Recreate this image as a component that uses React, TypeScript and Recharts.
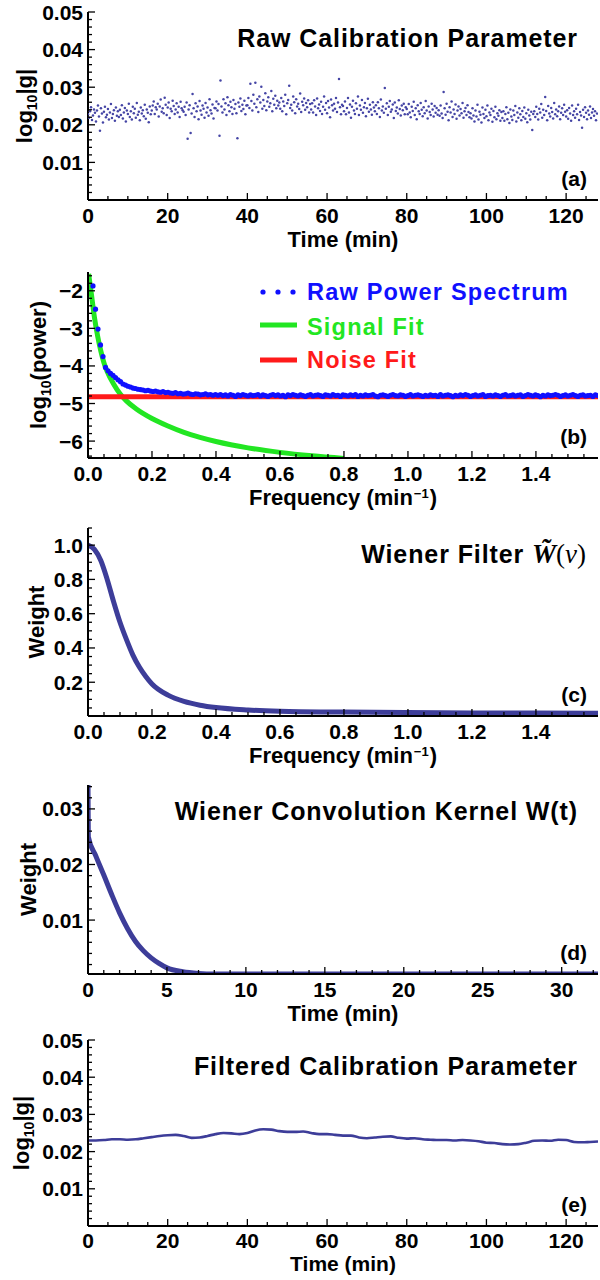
import React from 'react';
import { ComposedChart, Line, Scatter, XAxis, YAxis } from 'recharts';

const FONT = '"Liberation Sans", Arial, Helvetica, sans-serif';
const SERIF = '"Liberation Serif", "DejaVu Serif", serif';
const INK = '#3d3d99';
const BLUE = '#1010ff';
const GREEN = '#22e622';
const RED = '#ff1a1a';

// (a) raw calibration parameter, one reading every 0.25 min, in units of 1e-4
const rawStep = 0.25;
const rawG = [
  228, 219, 236, 247, 213, 225, 241, 232, 209, 238, 251, 222, 184, 244, 230, 206, 235, 248, 220, 227, 242, 214, 233, 255, 218, 229, 239, 211, 246, 224, 236, 221,
  240, 226, 252, 217, 233, 245, 209, 238, 229, 256, 221, 236, 214, 248, 231, 243, 219, 258, 227, 235, 212, 246, 230, 239, 223, 253, 216, 241, 232, 207, 249, 228,
  238, 251, 262, 229, 247, 241, 256, 222, 249, 267, 235, 244, 231, 272, 253, 226, 246, 259, 218, 243, 236, 264, 250, 229, 241, 257, 233, 248, 221, 261, 244, 239,
  235, 248, 226, 259, 163, 241, 252, 178, 230, 282, 244, 221, 257, 236, 249, 215, 263, 238, 227, 251, 243, 219, 258, 233, 246, 224, 268, 239, 230, 254, 217, 245,
  244, 262, 238, 255, 171, 318, 249, 233, 268, 241, 257, 226, 273, 252, 236, 261, 247, 229, 266, 243, 255, 231, 164, 259, 248, 270, 237, 253, 242, 264, 228, 251,
  252, 271, 245, 309, 263, 238, 280, 256, 312, 247, 268, 234, 275, 259, 301, 243, 266, 250, 284, 239, 262, 273, 248, 257, 290, 236, 269, 253, 277, 244, 264, 251,
  259, 243, 271, 236, 262, 250, 280, 228, 257, 266, 304, 245, 253, 238, 275, 260, 231, 268, 249, 256, 242, 283, 234, 261, 252, 270, 240, 258, 247, 265, 233, 255,
  241, 257, 233, 265, 249, 226, 270, 244, 254, 237, 261, 229, 248, 275, 240, 258, 231, 263, 246, 220, 267, 252, 238, 256, 243, 271, 234, 259, 322, 247, 228, 253,
  250, 236, 262, 228, 245, 271, 233, 254, 219, 248, 264, 238, 229, 257, 243, 275, 226, 251, 240, 266, 232, 247, 258, 223, 244, 269, 235, 253, 241, 227, 260, 246,
  236, 252, 229, 260, 244, 221, 267, 238, 249, 232, 298, 243, 257, 226, 248, 263, 235, 241, 254, 218, 259, 237, 246, 230, 265, 242, 225, 251, 239, 256, 228, 247,
  242, 228, 255, 233, 220, 248, 237, 261, 226, 244, 215, 252, 236, 229, 258, 240, 223, 247, 231, 263, 238, 217, 249, 234, 226, 256, 241, 222, 250, 232, 245, 227,
  239, 224, 251, 230, 218, 287, 244, 227, 256, 235, 212, 247, 233, 262, 221, 241, 229, 254, 216, 238, 249, 225, 242, 231, 258, 219, 236, 245, 226, 252, 234, 220,
  231, 217, 244, 225, 209, 238, 222, 253, 214, 235, 227, 206, 246, 229, 218, 240, 223, 251, 212, 233, 226, 243, 208, 237, 220, 248, 215, 231, 224, 239, 211, 234,
  218, 236, 211, 229, 247, 215, 232, 205, 241, 222, 213, 238, 226, 250, 209, 233, 219, 244, 228, 212, 237, 221, 246, 216, 231, 207, 240, 225, 214, 235, 186, 229,
  236, 221, 248, 229, 214, 243, 233, 255, 219, 240, 226, 274, 237, 212, 250, 230, 222, 245, 234, 217, 258, 228, 241, 223, 236, 249, 215, 232, 244, 226, 253, 235,
  222, 239, 216, 245, 230, 211, 251, 226, 236, 219, 243, 228, 253, 213, 234, 225, 192, 240, 221, 247, 232, 215, 238, 227, 249, 218, 233, 242, 224, 236, 212, 230,
];

// (b) raw power spectrum, log10 in hundredths, bins k = 2.. at k/128 min^-1
const specFirstBin = 2;
const specBin = 1 / 128;
const specPower = [
  -187, -249, -302, -344, -375,
  -404, -413, -420, -425, -431, -437, -442, -448, -451, -454, -456, -459, -460, -462, -463, -464, -466, -465, -467, -468,
  -467, -469, -470, -468, -471, -470, -472, -473, -471, -474, -473, -475, -474, -472, -475, -476, -474, -475, -477, -476, -474, -477, -476, -478, -476,
  -478, -476, -479, -477, -480, -476, -478, -481, -477, -479, -476, -478, -480, -477, -479, -478, -476,
  -480, -477, -479, -481, -478, -476, -479, -477, -480, -478, -482, -477, -479, -476, -478, -480, -477,
  -479, -481, -478, -476, -480, -478, -477, -479, -481, -477, -478, -480, -476, -479, -478, -481, -477,
  -478, -480, -477, -479, -476, -481, -478, -480, -477, -479, -478, -476, -480, -482, -478, -477, -479,
  -481, -478, -476, -479, -480, -477, -478, -481, -479, -476, -480, -478, -477, -479, -481, -478, -480,
  -477, -479, -478, -481, -476, -480, -478, -477, -479, -482, -478, -480, -477, -479, -476, -478, -481,
  -479, -477, -480, -478, -476, -481, -479, -478, -480, -477, -479, -481, -478, -476, -480, -479, -477,
  -480, -478, -477, -481, -479, -476, -478, -480, -477, -479, -482, -478, -480, -477, -479, -478, -476,
  -478, -481, -479, -477, -480, -478, -476, -479, -481, -478, -477, -480, -479, -478, -481, -477, -479,
];
const signalFreq = [0.002, 0.01, 0.02, 0.03, 0.04, 0.05, 0.06, 0.08, 0.1, 0.12, 0.15, 0.2, 0.25, 0.3, 0.35, 0.4, 0.5, 0.6, 0.7, 0.8];
const signalFit = [-1.55, -2.05, -2.7, -3.2, -3.6, -3.92, -4.15, -4.48, -4.74, -4.93, -5.14, -5.4, -5.6, -5.77, -5.9, -6.01, -6.18, -6.3, -6.39, -6.46];
const noiseFreq = [0, 1.594];
const noiseFit = [-4.82, -4.82];

// (c) Wiener filter
const filterFreq = [0, 0.02, 0.04, 0.06, 0.08, 0.1, 0.12, 0.14, 0.16, 0.18, 0.2, 0.25, 0.3, 0.35, 0.4, 0.5, 0.6, 0.8, 1.0, 1.2, 1.4, 1.594];
const filterWeight = [1.0, 0.975, 0.91, 0.8, 0.67, 0.55, 0.45, 0.36, 0.29, 0.235, 0.19, 0.125, 0.088, 0.066, 0.052, 0.038, 0.031, 0.026, 0.023, 0.021, 0.02, 0.019];

// (d) convolution kernel
const kernelTime = [0, 0.02, 0.5, 1, 1.5, 2, 2.5, 3, 3.5, 4, 4.5, 5, 6, 7, 8, 10, 15, 20, 25, 32.3];
const kernelWeight = [0.0343, 0.025, 0.0215, 0.0181, 0.0146, 0.0113, 0.0085, 0.0062, 0.0045, 0.0032, 0.0022, 0.0014, 0.0007, 0.0004, 0.0003, 0.0003, 0.0003, 0.0003, 0.0003, 0.0003];

// (e) filtered calibration parameter, every 2 min, in units of 1e-4
const filtStep = 2;
const filtG = [
  230, 230, 231, 233, 233, 232, 233, 236, 239, 242, 244, 245, 242, 237, 238, 242, 247, 250, 249, 247, 250, 257, 260, 259, 255, 253, 253, 254, 250, 247, 247, 245,
  243, 243, 238, 236, 238, 240, 241, 237, 235, 236, 233, 232, 231, 231, 230, 231, 230, 228, 224, 223, 220, 219, 220, 224, 229, 230, 229, 232, 231, 226, 225, 226, 227,
];

// tick labels
const timeTicks = [0, 20, 40, 60, 80, 100, 120];
const gTicks = [0.01, 0.02, 0.03, 0.04, 0.05];
const freqTicks = [0, 0.2, 0.4, 0.6, 0.8, 1.0, 1.2, 1.4];
const powerTicks = [-6, -5, -4, -3, -2];
const weightTicks = [0.2, 0.4, 0.6, 0.8, 1.0];
const kernelTimeTicks = [0, 5, 10, 15, 20, 25, 30];
const kernelTicks = [0.01, 0.02, 0.03];

const rawPts = rawG.map((v, i) => ({ x: i * rawStep, y: v / 10000 }));
const specPts = specPower.map((v, i) => ({ x: (i + specFirstBin) * specBin, y: v / 100 }));
const signalPts = signalFreq.map((x, i) => ({ x, y: signalFit[i] }));
const noisePts = noiseFreq.map((x, i) => ({ x, y: noiseFit[i] }));
const filterPts = filterFreq.map((x, i) => ({ x, y: filterWeight[i] }));
const kernelPts = kernelTime.map((x, i) => ({ x, y: kernelWeight[i] }));
const filtPts = filtG.map((v, i) => ({ x: i * filtStep, y: v / 10000 }));

const withMinors = (majors: number[], step: number, lo: number, hi: number) => {
  const out: number[] = [];
  for (let v = Math.ceil(lo / step - 1e-9) * step; v <= hi + 1e-9; v += step) out.push(+v.toFixed(6));
  majors.forEach((m) => { if (!out.some((o) => Math.abs(o - m) < 1e-7)) out.push(m); });
  return out.sort((a, b) => a - b);
};
const isMajor = (majors: number[], v: number) => majors.some((m) => Math.abs(m - v) < 1e-7);

const lbl = { fontFamily: FONT, fontWeight: 'bold' as const, fill: '#000' };

const tickFor = (side: string, majors: number[], fmt?: (v: number) => string, labelDy = 23) => (p: any) => {
  const v = p.payload.value;
  const len = isMajor(majors, v) ? 7 : 4;
  const show = fmt && isMajor(majors, v);
  let line;
  if (side === 'bottom') line = <line x1={p.x} y1={p.y} x2={p.x} y2={p.y - len} stroke="#000" strokeWidth={1.3} />;
  else if (side === 'top') line = <line x1={p.x} y1={p.y} x2={p.x} y2={p.y + len} stroke="#000" strokeWidth={1.3} />;
  else if (side === 'left') line = <line x1={p.x} y1={p.y} x2={p.x + len} y2={p.y} stroke="#000" strokeWidth={1.3} />;
  else line = <line x1={p.x} y1={p.y} x2={p.x - len} y2={p.y} stroke="#000" strokeWidth={1.3} />;
  return (
    <g>
      {line}
      {show && side === 'bottom' && (
        <text {...lbl} x={p.x} y={p.y + labelDy} textAnchor="middle" fontSize={21}>{fmt!(v)}</text>
      )}
      {show && side === 'left' && (
        <text {...lbl} x={p.x - 5} y={p.y + 7.5} textAnchor="end" fontSize={21}>{fmt!(v)}</text>
      )}
    </g>
  );
};

const minus = (s: string) => s.replace('-', '\u2212');

type PanelProps = {
  top: number;
  plotH: number;
  xDomain: [number, number];
  yDomain: [number, number];
  xMajor: number[];
  xMinor: number;
  yMajor: number[];
  yMinor: number;
  xFmt: (v: number) => string;
  yFmt: (v: number) => string;
  xLabel: React.ReactNode;
  xTickDy?: number;
  xLabelDy?: number;
  xLabelSize?: number;
  yLabel: React.ReactNode;
  yLabelX: number;
  decor: React.ReactNode;
  children: React.ReactNode;
};

function Panel(props: PanelProps) {
  const {
    top, plotH, xDomain, yDomain, xMajor, xMinor, yMajor, yMinor, xFmt, yFmt,
    xLabel, xTickDy = 23, xLabelDy = 47, xLabelSize = 22, yLabel, yLabelX, decor, children,
  } = props;
  const xTicks = withMinors(xMajor, xMinor, xDomain[0], xDomain[1]);
  const yTicks = withMinors(yMajor, yMinor, yDomain[0], yDomain[1]);
  const bottom = 10 + plotH;
  const bottomLabel = () => (
    <g>
      <text {...lbl} x={343} y={bottom + xLabelDy} textAnchor="middle" fontSize={xLabelSize}>{xLabel}</text>
      <text {...lbl} x={yLabelX} y={10 + plotH / 2} textAnchor="middle" fontSize={22}
        transform={`rotate(-90 ${yLabelX} ${10 + plotH / 2})`}>{yLabel}</text>
      {decor}
    </g>
  );
  return (
    <div style={{ position: 'absolute', left: 0, top: top - 10 }}>
      <ComposedChart width={600} height={plotH + 70} margin={{ top: 10, right: 2, bottom: 0, left: 0 }}>
        <XAxis xAxisId={0} dataKey="x" type="number" domain={xDomain} allowDataOverflow ticks={xTicks} interval={0}
          tick={tickFor('bottom', xMajor, xFmt, xTickDy)} tickLine={false} tickSize={0} tickMargin={0} height={60}
          axisLine={{ stroke: '#000', strokeWidth: 2 }} label={bottomLabel} />
        <XAxis xAxisId="top" orientation="top" type="number" domain={xDomain} allowDataOverflow ticks={xTicks} interval={0}
          tick={tickFor('top', xMajor)} tickLine={false} tickSize={0} tickMargin={0} height={0}
          axisLine={{ stroke: '#000', strokeWidth: 2 }} />
        <YAxis yAxisId={0} dataKey="y" type="number" domain={yDomain} allowDataOverflow ticks={yTicks} interval={0}
          tick={tickFor('left', yMajor, yFmt)} tickLine={false} tickSize={0} tickMargin={0} width={88}
          axisLine={{ stroke: '#000', strokeWidth: 2 }} />
        <YAxis yAxisId="r" orientation="right" type="number" domain={yDomain} allowDataOverflow ticks={yTicks} interval={0}
          tick={tickFor('right', yMajor)} tickLine={false} tickSize={0} tickMargin={0} width={0}
          axisLine={{ stroke: '#999', strokeWidth: 1, strokeDasharray: '2 2' }} />
        {children}
      </ComposedChart>
    </div>
  );
}

const title = (text: React.ReactNode, plotH: number, tag: string, right = 578) => (
  <g>
    <text {...lbl} x={right} y={45} textAnchor="end" fontSize={25} letterSpacing={0.9}>{text}</text>
    <text {...lbl} x={587} y={10 + plotH - 14} textAnchor="end" fontSize={21}>{tag}</text>
  </g>
);

const logG = (
  <>
    <tspan>log</tspan>
    <tspan fontSize={14} dy={5}>10</tspan>
    <tspan dy={-5}>|g|</tspan>
  </>
);
const freqLabel = (
  <>
    <tspan>Frequency (min</tspan>
    <tspan fontSize={13} dy={-7} dx={1}>{'\u22121'}</tspan>
    <tspan dy={7} dx={1}>)</tspan>
  </>
);

const smallDot = (p: any) => <circle cx={p.cx} cy={p.cy} r={1.25} fill="#4545a5" />;
const bigDot = (p: any) => <circle cx={p.cx} cy={p.cy} r={2.6} fill={BLUE} />;

const legendB = (
  <g>
    {[263, 278, 293].map((x) => <circle key={x} cx={x} cy={30} r={2.6} fill={BLUE} />)}
    <text {...lbl} x={307} y={38} fontSize={23.5} letterSpacing={1.2} fill={BLUE}>Raw Power Spectrum</text>
    <line x1={260} x2={297} y1={63} y2={63} stroke={GREEN} strokeWidth={5} />
    <text {...lbl} x={307} y={73} fontSize={23.5} letterSpacing={1.2} fill={GREEN}>Signal Fit</text>
    <line x1={260} x2={297} y1={98} y2={98} stroke={RED} strokeWidth={5} />
    <text {...lbl} x={307} y={106} fontSize={23.5} letterSpacing={1.2} fill={RED}>Noise Fit</text>
  </g>
);

export default function App() {
  return (
    <div style={{ position: 'absolute', left: 0, top: 0, width: 600, height: 1280, background: '#fff', overflow: 'hidden' }}>
      <Panel top={12} plotH={188} xDomain={[0, 128]} yDomain={[0, 0.05]} xMajor={timeTicks} xMinor={5}
        yMajor={gTicks} yMinor={0.002} xFmt={(v) => String(v)} yFmt={(v) => v.toFixed(2)}
        xLabel="Time (min)" yLabel={logG} yLabelX={32}
        decor={title('Raw Calibration Parameter', 188, '(a)')}>
        <Scatter data={rawPts} shape={smallDot} isAnimationActive={false} />
      </Panel>

      <Panel top={272} plotH={186} xDomain={[0, 1.594]} yDomain={[-6.45, -1.5]} xMajor={freqTicks} xMinor={0.05}
        yMajor={powerTicks} yMinor={0.2} xFmt={(v) => v.toFixed(1)} yFmt={(v) => minus(String(v))}
        xLabel={freqLabel} yLabel={<><tspan>log</tspan><tspan fontSize={14} dy={5}>10</tspan><tspan dy={-5}>(power)</tspan></>}
        yLabelX={46}
        decor={<g>{legendB}<text {...lbl} x={587} y={10 + 186 - 14} textAnchor="end" fontSize={21}>(b)</text></g>}>
        <Line data={signalPts} dataKey="y" type="monotone" stroke={GREEN} strokeWidth={5} dot={false} isAnimationActive={false} />
        <Line data={noisePts} dataKey="y" type="linear" stroke={RED} strokeWidth={5} dot={false} isAnimationActive={false} />
        <Scatter data={specPts} shape={bigDot} isAnimationActive={false} />
      </Panel>

      <Panel top={528} plotH={188} xDomain={[0, 1.594]} yDomain={[0.003, 1.1]} xMajor={freqTicks} xMinor={0.05}
        yMajor={weightTicks} yMinor={0.05} xFmt={(v) => v.toFixed(1)} yFmt={(v) => v.toFixed(1)}
        xLabel={freqLabel} yLabel="Weight" yLabelX={44}
        decor={title(
          <>
            <tspan>Wiener Filter </tspan>
            <tspan fontFamily={SERIF} fontStyle="italic" letterSpacing={0} fontSize={27}>{'W\u0303'}</tspan>
            <tspan fontFamily={SERIF} fontWeight="normal" letterSpacing={0} fontSize={27}>(</tspan>
            <tspan fontFamily={SERIF} fontStyle="italic" fontWeight="normal" letterSpacing={0} fontSize={27}>{'\u03bd'}</tspan>
            <tspan fontFamily={SERIF} fontWeight="normal" letterSpacing={0} fontSize={27}>)</tspan>
          </>, 188, '(c)', 586)}>
        <Line data={filterPts} dataKey="y" type="monotone" stroke={INK} strokeWidth={5} dot={false} isAnimationActive={false} />
      </Panel>

      <Panel top={785} plotH={189} xDomain={[0, 32.3]} yDomain={[0.0003, 0.0343]} xMajor={kernelTimeTicks} xMinor={1}
        yMajor={kernelTicks} yMinor={0.002} xFmt={(v) => String(v)} yFmt={(v) => v.toFixed(2)}
        xLabel="Time (min)" yLabel="Weight" yLabelX={36}
        decor={title('Wiener Convolution Kernel W(t)', 189, '(d)')}>
        <Line data={kernelPts} dataKey="y" type="monotone" stroke={INK} strokeWidth={5} dot={false} isAnimationActive={false} />
      </Panel>

      <Panel top={1040} plotH={186} xDomain={[0, 128]} yDomain={[0, 0.05]} xMajor={timeTicks} xMinor={5}
        yMajor={gTicks} yMinor={0.002} xFmt={(v) => String(v)} yFmt={(v) => v.toFixed(2)}
        xLabel="Time (min)" xTickDy={22} xLabelDy={45} xLabelSize={21} yLabel={logG} yLabelX={29}
        decor={title('Filtered Calibration Parameter', 186, '(e)')}>
        <Line data={filtPts} dataKey="y" type="monotone" stroke={INK} strokeWidth={2.6} dot={false} isAnimationActive={false} />
      </Panel>
    </div>
  );
}
